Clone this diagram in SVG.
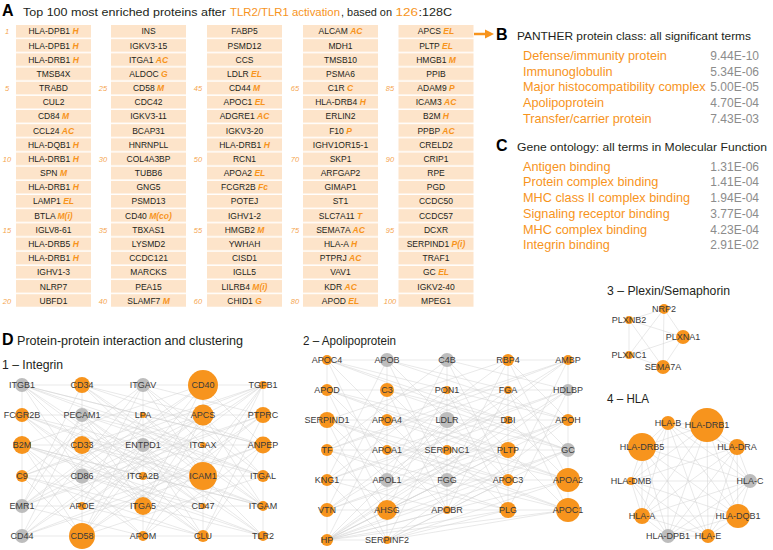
<svg xmlns="http://www.w3.org/2000/svg" width="773" height="550" viewBox="0 0 773 550">
<style>
text{font-family:"Liberation Sans",Arial,sans-serif}
.h{font-size:13.5px;fill:#231f20}
.hb{font-size:16px;font-weight:bold;fill:#000}
.org{fill:#F7941D}
.ct{font-size:8.5px;fill:#231f20;text-anchor:middle}
.t{fill:#F7941D;font-weight:bold;font-style:italic}
.num{font-size:7.5px;fill:#F5A54F;font-style:italic;text-anchor:middle}
.it{font-size:12.7px;fill:#F7941D}
.v{font-size:12px;fill:#8c8c8c;text-anchor:end}
.e{fill:none;stroke:#d2d2d2;stroke-width:0.5}
.o{fill:#F7941D}
.g{fill:#BDBDBD}
.lb{font-size:9px;fill:#3a3a3a;text-anchor:middle;dominant-baseline:central}
</style>
<defs>
<pattern id="rowpat" x="0" y="25" width="100" height="14.17" patternUnits="userSpaceOnUse"><rect width="100" height="12.7" fill="#FDE4CA"/></pattern>
</defs>
<rect width="773" height="550" fill="#fff"/>

<!-- Panel A -->
<g id="panelA">
<text x="2" y="16" class="hb">A</text>
<text x="23" y="16" class="h" style="font-size:11.5px" textLength="203" lengthAdjust="spacingAndGlyphs">Top 100 most enriched proteins after</text>
<text x="230" y="16" class="h org" style="font-size:11.5px" textLength="110" lengthAdjust="spacingAndGlyphs">TLR2/TLR1 activation</text>
<text x="341" y="16" class="h" style="font-size:11.5px" textLength="51" lengthAdjust="spacingAndGlyphs">, based on</text>
<text x="395.5" y="16" class="h org" style="font-size:11.5px" textLength="22.5" lengthAdjust="spacingAndGlyphs">126</text>
<text x="418.5" y="16" class="h" style="font-size:11.5px" textLength="33.5" lengthAdjust="spacingAndGlyphs">:128C</text>
<rect x="16" y="25" width="75" height="282" fill="url(#rowpat)"/>
<rect x="111" y="25" width="75" height="282" fill="url(#rowpat)"/>
<rect x="207" y="25" width="75" height="282" fill="url(#rowpat)"/>
<rect x="303" y="25" width="75" height="282" fill="url(#rowpat)"/>
<rect x="398.5" y="25" width="75" height="282" fill="url(#rowpat)"/>
<g class="numbers">
<text class="num" x="7" y="34.4">1</text><text class="num" x="7" y="91.1">5</text><text class="num" x="7" y="161.9">10</text><text class="num" x="7" y="232.8">15</text><text class="num" x="7" y="303.6">20</text>
<text class="num" x="103" y="91.1">25</text><text class="num" x="103" y="161.9">30</text><text class="num" x="103" y="232.8">35</text><text class="num" x="103" y="303.6">40</text>
<text class="num" x="198" y="91.1">45</text><text class="num" x="198" y="161.9">50</text><text class="num" x="198" y="232.8">55</text><text class="num" x="198" y="303.6">60</text>
<text class="num" x="295" y="91.1">65</text><text class="num" x="295" y="161.9">70</text><text class="num" x="295" y="232.8">75</text><text class="num" x="295" y="303.6">80</text>
<text class="num" x="390" y="91.1">85</text><text class="num" x="390" y="161.9">90</text><text class="num" x="390" y="232.8">95</text><text class="num" x="390" y="303.6">100</text>
</g>
<g class="col1">
<text class="ct" x="53.5" y="34.4">HLA-DPB1 <tspan class="t">H</tspan></text>
<text class="ct" x="53.5" y="48.6">HLA-DPB1 <tspan class="t">H</tspan></text>
<text class="ct" x="53.5" y="62.7">HLA-DRB1 <tspan class="t">H</tspan></text>
<text class="ct" x="53.5" y="76.9">TMSB4X</text>
<text class="ct" x="53.5" y="91.1">TRABD</text>
<text class="ct" x="53.5" y="105.3">CUL2</text>
<text class="ct" x="53.5" y="119.4">CD84 <tspan class="t">M</tspan></text>
<text class="ct" x="53.5" y="133.6">CCL24 <tspan class="t">AC</tspan></text>
<text class="ct" x="53.5" y="147.8">HLA-DQB1 <tspan class="t">H</tspan></text>
<text class="ct" x="53.5" y="161.9">HLA-DRB1 <tspan class="t">H</tspan></text>
<text class="ct" x="53.5" y="176.1">SPN <tspan class="t">M</tspan></text>
<text class="ct" x="53.5" y="190.3">HLA-DRB1 <tspan class="t">H</tspan></text>
<text class="ct" x="53.5" y="204.4">LAMP1 <tspan class="t">EL</tspan></text>
<text class="ct" x="53.5" y="218.6">BTLA <tspan class="t">M(i)</tspan></text>
<text class="ct" x="53.5" y="232.8">IGLV8-61</text>
<text class="ct" x="53.5" y="247.0">HLA-DRB5 <tspan class="t">H</tspan></text>
<text class="ct" x="53.5" y="261.1">HLA-DRB1 <tspan class="t">H</tspan></text>
<text class="ct" x="53.5" y="275.3">IGHV1-3</text>
<text class="ct" x="53.5" y="289.5">NLRP7</text>
<text class="ct" x="53.5" y="303.6">UBFD1</text>
</g>
<g class="col2">
<text class="ct" x="148.5" y="34.4">INS</text>
<text class="ct" x="148.5" y="48.6">IGKV3-15</text>
<text class="ct" x="148.5" y="62.7">ITGA1 <tspan class="t">AC</tspan></text>
<text class="ct" x="148.5" y="76.9">ALDOC <tspan class="t">G</tspan></text>
<text class="ct" x="148.5" y="91.1">CD58 <tspan class="t">M</tspan></text>
<text class="ct" x="148.5" y="105.3">CDC42</text>
<text class="ct" x="148.5" y="119.4">IGKV3-11</text>
<text class="ct" x="148.5" y="133.6">BCAP31</text>
<text class="ct" x="148.5" y="147.8">HNRNPLL</text>
<text class="ct" x="148.5" y="161.9">COL4A3BP</text>
<text class="ct" x="148.5" y="176.1">TUBB6</text>
<text class="ct" x="148.5" y="190.3">GNG5</text>
<text class="ct" x="148.5" y="204.4">PSMD13</text>
<text class="ct" x="148.5" y="218.6">CD40 <tspan class="t">M(co)</tspan></text>
<text class="ct" x="148.5" y="232.8">TBXAS1</text>
<text class="ct" x="148.5" y="247.0">LYSMD2</text>
<text class="ct" x="148.5" y="261.1">CCDC121</text>
<text class="ct" x="148.5" y="275.3">MARCKS</text>
<text class="ct" x="148.5" y="289.5">PEA15</text>
<text class="ct" x="148.5" y="303.6">SLAMF7 <tspan class="t">M</tspan></text>
</g>
<g class="col3">
<text class="ct" x="244.5" y="34.4">FABP5</text>
<text class="ct" x="244.5" y="48.6">PSMD12</text>
<text class="ct" x="244.5" y="62.7">CCS</text>
<text class="ct" x="244.5" y="76.9">LDLR <tspan class="t">EL</tspan></text>
<text class="ct" x="244.5" y="91.1">CD44 <tspan class="t">M</tspan></text>
<text class="ct" x="244.5" y="105.3">APOC1 <tspan class="t">EL</tspan></text>
<text class="ct" x="244.5" y="119.4">ADGRE1 <tspan class="t">AC</tspan></text>
<text class="ct" x="244.5" y="133.6">IGKV3-20</text>
<text class="ct" x="244.5" y="147.8">HLA-DRB1 <tspan class="t">H</tspan></text>
<text class="ct" x="244.5" y="161.9">RCN1</text>
<text class="ct" x="244.5" y="176.1">APOA2 <tspan class="t">EL</tspan></text>
<text class="ct" x="244.5" y="190.3">FCGR2B <tspan class="t">Fc</tspan></text>
<text class="ct" x="244.5" y="204.4">POTEJ</text>
<text class="ct" x="244.5" y="218.6">IGHV1-2</text>
<text class="ct" x="244.5" y="232.8">HMGB2 <tspan class="t">M</tspan></text>
<text class="ct" x="244.5" y="247.0">YWHAH</text>
<text class="ct" x="244.5" y="261.1">CISD1</text>
<text class="ct" x="244.5" y="275.3">IGLL5</text>
<text class="ct" x="244.5" y="289.5">LILRB4 <tspan class="t">M(i)</tspan></text>
<text class="ct" x="244.5" y="303.6">CHID1 <tspan class="t">G</tspan></text>
</g>
<g class="col4">
<text class="ct" x="340.5" y="34.4">ALCAM <tspan class="t">AC</tspan></text>
<text class="ct" x="340.5" y="48.6">MDH1</text>
<text class="ct" x="340.5" y="62.7">TMSB10</text>
<text class="ct" x="340.5" y="76.9">PSMA6</text>
<text class="ct" x="340.5" y="91.1">C1R <tspan class="t">C</tspan></text>
<text class="ct" x="340.5" y="105.3">HLA-DRB4 <tspan class="t">H</tspan></text>
<text class="ct" x="340.5" y="119.4">ERLIN2</text>
<text class="ct" x="340.5" y="133.6">F10 <tspan class="t">P</tspan></text>
<text class="ct" x="340.5" y="147.8">IGHV1OR15-1</text>
<text class="ct" x="340.5" y="161.9">SKP1</text>
<text class="ct" x="340.5" y="176.1">ARFGAP2</text>
<text class="ct" x="340.5" y="190.3">GIMAP1</text>
<text class="ct" x="340.5" y="204.4">ST1</text>
<text class="ct" x="340.5" y="218.6">SLC7A11 <tspan class="t">T</tspan></text>
<text class="ct" x="340.5" y="232.8">SEMA7A <tspan class="t">AC</tspan></text>
<text class="ct" x="340.5" y="247.0">HLA-A <tspan class="t">H</tspan></text>
<text class="ct" x="340.5" y="261.1">PTPRJ <tspan class="t">AC</tspan></text>
<text class="ct" x="340.5" y="275.3">VAV1</text>
<text class="ct" x="340.5" y="289.5">KDR <tspan class="t">AC</tspan></text>
<text class="ct" x="340.5" y="303.6">APOD <tspan class="t">EL</tspan></text>
</g>
<g class="col5">
<text class="ct" x="436" y="34.4">APCS <tspan class="t">EL</tspan></text>
<text class="ct" x="436" y="48.6">PLTP <tspan class="t">EL</tspan></text>
<text class="ct" x="436" y="62.7">HMGB1 <tspan class="t">M</tspan></text>
<text class="ct" x="436" y="76.9">PPIB</text>
<text class="ct" x="436" y="91.1">ADAM9 <tspan class="t">P</tspan></text>
<text class="ct" x="436" y="105.3">ICAM3 <tspan class="t">AC</tspan></text>
<text class="ct" x="436" y="119.4">B2M <tspan class="t">H</tspan></text>
<text class="ct" x="436" y="133.6">PPBP <tspan class="t">AC</tspan></text>
<text class="ct" x="436" y="147.8">CRELD2</text>
<text class="ct" x="436" y="161.9">CRIP1</text>
<text class="ct" x="436" y="176.1">RPE</text>
<text class="ct" x="436" y="190.3">PGD</text>
<text class="ct" x="436" y="204.4">CCDC50</text>
<text class="ct" x="436" y="218.6">CCDC57</text>
<text class="ct" x="436" y="232.8">DCXR</text>
<text class="ct" x="436" y="247.0">SERPIND1 <tspan class="t">P(i)</tspan></text>
<text class="ct" x="436" y="261.1">TRAF1</text>
<text class="ct" x="436" y="275.3">GC <tspan class="t">EL</tspan></text>
<text class="ct" x="436" y="289.5">IGKV2-40</text>
<text class="ct" x="436" y="303.6">MPEG1</text>
</g>
</g>

<!-- Panel B -->
<g id="panelB">
<path d="M474 34H487" stroke="#F7941D" stroke-width="2.5"/>
<path d="M485 29.5L494 34L485 38.5Z" fill="#F7941D"/>
<text x="496" y="40" class="hb">B</text>
<text x="517" y="40" class="h" textLength="234" lengthAdjust="spacingAndGlyphs" style="font-size:11.5px">PANTHER protein class: all significant terms</text>
<text x="523" y="60" class="it">Defense/immunity protein</text><text x="759" y="60" class="v">9.44E-10</text>
<text x="523" y="75.7" class="it">Immunoglobulin</text><text x="759" y="75.7" class="v">5.34E-06</text>
<text x="523" y="91.4" class="it">Major histocompatibility complex</text><text x="759" y="91.4" class="v">5.00E-05</text>
<text x="523" y="107.1" class="it">Apolipoprotein</text><text x="759" y="107.1" class="v">4.70E-04</text>
<text x="523" y="122.8" class="it">Transfer/carrier protein</text><text x="759" y="122.8" class="v">7.43E-03</text>
</g>

<!-- Panel C -->
<g id="panelC">
<text x="496" y="151" class="hb">C</text>
<text x="517" y="151" class="h" textLength="250" lengthAdjust="spacingAndGlyphs" style="font-size:11.5px">Gene ontology: all terms in Molecular Function</text>
<text x="523" y="170.7" class="it">Antigen binding</text><text x="759" y="170.7" class="v">1.31E-06</text>
<text x="523" y="186.4" class="it">Protein complex binding</text><text x="759" y="186.4" class="v">1.41E-04</text>
<text x="523" y="202.1" class="it">MHC class II complex binding</text><text x="759" y="202.1" class="v">1.94E-04</text>
<text x="523" y="217.8" class="it">Signaling receptor binding</text><text x="759" y="217.8" class="v">3.77E-04</text>
<text x="523" y="233.5" class="it">MHC complex binding</text><text x="759" y="233.5" class="v">4.23E-04</text>
<text x="523" y="249.2" class="it">Integrin binding</text><text x="759" y="249.2" class="v">2.91E-02</text>
</g>

<!-- Panel D headings -->
<g id="panelD-titles">
<text x="2" y="345" class="hb">D</text>
<text x="17" y="345" class="h" textLength="226" lengthAdjust="spacingAndGlyphs" style="font-size:13px">Protein-protein interaction and clustering</text>
<text x="2" y="369" class="h" textLength="61" lengthAdjust="spacingAndGlyphs" style="font-size:13px">1 – Integrin</text>
<text x="303" y="345" class="h" textLength="93" lengthAdjust="spacingAndGlyphs" style="font-size:13px">2 – Apolipoprotein</text>
<text x="607" y="295" class="h" textLength="123" lengthAdjust="spacingAndGlyphs" style="font-size:13px">3 – Plexin/Semaphorin</text>
<text x="607" y="403" class="h" textLength="42" lengthAdjust="spacingAndGlyphs" style="font-size:13px">4 – HLA</text>
</g>

<!-- Connectors -->
<g id="connectors">
<path class="e" d="M22 385L143 415M82 385L203 415M143 385L263 415M203 385L22 445M263 385L82 445M22 415L143 445M82 415L203 445M143 415L263 445M203 415L22 476M263 415L82 476M22 445L143 476M82 445L203 476M143 445L263 476M203 445L22 506M263 445L82 506M22 476L143 506M82 476L203 506M143 476L263 506M203 476L22 536M263 476L82 536M22 506L143 536M82 506L203 536M143 506L263 536M203 506L22 385M263 506L82 385M22 536L143 385M82 536L203 385M143 536L263 385M203 536L22 415M263 536L82 415
M22 385L82 445M82 385L143 445M143 385L203 445M203 385L263 445M263 385L22 476M22 415L82 476M82 415L143 476M143 415L203 476M203 415L263 476M263 415L22 506M22 445L82 506M82 445L143 506M143 445L203 506M203 445L263 506M263 445L22 536M22 476L82 536M82 476L143 536M143 476L203 536M203 476L263 536M263 476L22 385M22 506L82 385M82 506L143 385M143 506L203 385M203 506L263 385M263 506L22 415M22 536L82 415M82 536L143 415M143 536L203 415M203 536L263 415M263 536L22 445
M22 385L203 445M82 385L263 445M143 385L22 476M203 385L82 476M263 385L143 476M22 415L203 476M82 415L263 476M143 415L22 506M203 415L82 506M263 415L143 506M22 445L203 506M82 445L263 506M143 445L22 536M203 445L82 536M263 445L143 536M22 476L203 536M82 476L263 536M143 476L22 385M203 476L82 385M263 476L143 385M22 506L203 385M82 506L263 385M143 506L22 415M203 506L82 415M263 506L143 415M22 536L203 415M82 536L263 415M143 536L22 445M203 536L82 445M263 536L143 445
M22 385L82 476M143 385L203 476M263 385L22 506M82 415L143 506M203 415L263 506M22 445L82 536M143 445L203 536M263 445L22 385M203 476L263 385M22 506L82 415M143 506L203 415M263 506L22 445M82 536L143 445M203 536L263 445
M22 385H263M22 415H263M22 445H263M22 476H263M22 506H263M22 536H263M22 385V536M82 385V536M143 385V536M203 385V536M263 385V536"/>
<path class="e" d="M327 360L447 390M387 360L508 390M447 360L568 390M508 360L327 420M568 360L387 420M327 390L447 420M387 390L508 420M447 390L568 420M508 390L327 450M568 390L387 450M327 420L447 450M387 420L508 450M447 420L568 450M508 420L327 480M568 420L387 480M327 450L447 480M387 450L508 480M447 450L568 480M508 450L327 510M568 450L387 510M327 480L447 510M387 480L508 510M447 480L568 510M508 480L327 540M568 480L387 540
M327 360L387 420M387 360L447 420M447 360L508 420M508 360L568 420M568 360L327 450M327 390L387 450M387 390L447 450M447 390L508 450M508 390L568 450M568 390L327 480M327 420L387 480M387 420L447 480M447 420L508 480M508 420L568 480M568 420L327 510M327 450L387 510M387 450L447 510M447 450L508 510M508 450L568 510M568 450L327 540M327 480L387 540M387 480L327 360M447 480L387 360M508 480L447 360M568 480L508 360M327 510L568 360M387 510L327 390M447 510L387 390M508 510L447 390M568 510L508 390M327 540L568 390M387 540L327 420
M327 360L508 420M387 360L568 420M447 360L327 450M508 360L387 450M568 360L447 450M327 390L508 450M387 390L568 450M447 390L327 480M508 390L387 480M568 390L447 480M327 420L508 480M387 420L568 480M447 420L327 510M508 420L387 510M568 420L447 510M327 450L508 510M387 450L568 510M447 450L327 540M508 450L387 540M568 450L327 360M327 480L387 360M387 480L447 360M447 480L508 360M508 480L568 360M568 480L327 390M327 510L387 390M387 510L447 390M447 510L508 390M508 510L568 390M568 510L327 420M327 540L387 420M387 540L447 420
M327 540L568 420M327 540L568 480M327 540L568 510M327 540L508 510M327 540L508 450M327 540L508 420M327 540L447 480M327 540L447 510M327 540L447 420M387 540L568 510M387 540L568 450M387 540L508 510M387 540L508 480
M327 360H568M327 390H568M327 420H568M327 450H568M327 480H568M327 510H568M327 540H387M327 360V540M387 360V540M447 360V510M508 360V510M568 360V510"/>
<path class="e" d="M664 309L629 320M664 309L683 337M664 309L629 355M664 309L663 367M629 320L683 337M629 320L629 355M629 320L663 367M683 337L629 355M683 337L663 367M629 355L663 367"/>
<path class="e" d="M668 423L707 425M668 423L737 447M668 423L642 447M668 423L631 481M668 423L750 481M668 423L642 516M668 423L738 516M668 423L668 536M668 423L708 536M707 425L737 447M707 425L642 447M707 425L631 481M707 425L750 481M707 425L642 516M707 425L738 516M707 425L668 536M707 425L708 536M737 447L642 447M737 447L631 481M737 447L750 481M737 447L642 516M737 447L738 516M737 447L668 536M737 447L708 536M642 447L631 481M642 447L750 481M642 447L642 516M642 447L738 516M642 447L668 536M642 447L708 536M631 481L750 481M631 481L642 516M631 481L738 516M631 481L668 536M631 481L708 536M750 481L642 516M750 481L738 516M750 481L668 536M750 481L708 536M642 516L738 516M642 516L668 536M642 516L708 536M738 516L668 536M738 516L708 536M668 536L708 536"/>
</g>

<!-- Network 1: Integrin -->
<g id="net1">
<g id="n1-ITGB1"><circle class="g" cx="22" cy="385" r="7"/><text class="lb" x="22" y="385">ITGB1</text></g>
<g id="n1-CD34"><circle class="o" cx="82" cy="385" r="8"/><text class="lb" x="82" y="385">CD34</text></g>
<g id="n1-ITGAV"><circle class="g" cx="143" cy="385" r="7"/><text class="lb" x="143" y="385">ITGAV</text></g>
<g id="n1-CD40"><circle class="o" cx="203" cy="385" r="15"/><text class="lb" x="203" y="385">CD40</text></g>
<g id="n1-TGFB1"><circle class="o" cx="263" cy="385" r="4"/><text class="lb" x="263" y="385">TGFB1</text></g>
<g id="n1-FCGR2B"><circle class="o" cx="22" cy="415" r="7"/><text class="lb" x="22" y="415">FCGR2B</text></g>
<g id="n1-PECAM1"><circle class="g" cx="82" cy="415" r="7"/><text class="lb" x="82" y="415">PECAM1</text></g>
<g id="n1-LPA"><circle class="o" cx="143" cy="415" r="3"/><text class="lb" x="143" y="415">LPA</text></g>
<g id="n1-APCS"><circle class="o" cx="203" cy="415" r="10.5"/><text class="lb" x="203" y="415">APCS</text></g>
<g id="n1-PTPRC"><circle class="o" cx="263" cy="415" r="8"/><text class="lb" x="263" y="415">PTPRC</text></g>
<g id="n1-B2M"><circle class="o" cx="22" cy="445" r="9"/><text class="lb" x="22" y="445">B2M</text></g>
<g id="n1-CD33"><circle class="o" cx="82" cy="445" r="9"/><text class="lb" x="82" y="445">CD33</text></g>
<g id="n1-ENTPD1"><circle class="g" cx="143" cy="445" r="7"/><text class="lb" x="143" y="445">ENTPD1</text></g>
<g id="n1-ITGAX"><circle class="o" cx="203" cy="445" r="3"/><text class="lb" x="203" y="445">ITGAX</text></g>
<g id="n1-ANPEP"><circle class="o" cx="263" cy="445" r="8.5"/><text class="lb" x="263" y="445">ANPEP</text></g>
<g id="n1-C9"><circle class="o" cx="22" cy="476" r="6"/><text class="lb" x="22" y="476">C9</text></g>
<g id="n1-CD86"><circle class="g" cx="82" cy="476" r="7.5"/><text class="lb" x="82" y="476">CD86</text></g>
<g id="n1-ITGA2B"><circle class="o" cx="143" cy="476" r="4"/><text class="lb" x="143" y="476">ITGA2B</text></g>
<g id="n1-ICAM1"><circle class="o" cx="203" cy="476" r="14"/><text class="lb" x="203" y="476">ICAM1</text></g>
<g id="n1-ITGAL"><circle class="o" cx="263" cy="476" r="6"/><text class="lb" x="263" y="476">ITGAL</text></g>
<g id="n1-EMR1"><circle class="g" cx="22" cy="506" r="7"/><text class="lb" x="22" y="506">EMR1</text></g>
<g id="n1-APOE"><circle class="o" cx="82" cy="506" r="4"/><text class="lb" x="82" y="506">APOE</text></g>
<g id="n1-ITGA5"><circle class="o" cx="143" cy="506" r="9"/><text class="lb" x="143" y="506">ITGA5</text></g>
<g id="n1-CD47"><circle class="o" cx="203" cy="506" r="3"/><text class="lb" x="203" y="506">CD47</text></g>
<g id="n1-ITGAM"><circle class="o" cx="263" cy="506" r="5"/><text class="lb" x="263" y="506">ITGAM</text></g>
<g id="n1-CD44"><circle class="g" cx="22" cy="536" r="7"/><text class="lb" x="22" y="536">CD44</text></g>
<g id="n1-CD58"><circle class="o" cx="82" cy="536" r="13"/><text class="lb" x="82" y="536">CD58</text></g>
<g id="n1-APOM"><circle class="o" cx="143" cy="536" r="5"/><text class="lb" x="143" y="536">APOM</text></g>
<g id="n1-CLU"><circle class="o" cx="203" cy="536" r="6"/><text class="lb" x="203" y="536">CLU</text></g>
<g id="n1-TLR2"><circle class="o" cx="263" cy="536" r="5"/><text class="lb" x="263" y="536">TLR2</text></g>
</g>

<!-- Network 2: Apolipoprotein -->
<g id="net2">
<g id="n2-APOC4"><circle class="o" cx="327" cy="360" r="5"/><text class="lb" x="327" y="360">APOC4</text></g>
<g id="n2-APOB"><circle class="g" cx="387" cy="360" r="7"/><text class="lb" x="387" y="360">APOB</text></g>
<g id="n2-C4B"><circle class="g" cx="447" cy="360" r="7"/><text class="lb" x="447" y="360">C4B</text></g>
<g id="n2-RBP4"><circle class="o" cx="508" cy="360" r="6"/><text class="lb" x="508" y="360">RBP4</text></g>
<g id="n2-AMBP"><circle class="o" cx="568" cy="360" r="5"/><text class="lb" x="568" y="360">AMBP</text></g>
<g id="n2-APOD"><circle class="o" cx="327" cy="390" r="6"/><text class="lb" x="327" y="390">APOD</text></g>
<g id="n2-C3"><circle class="o" cx="387" cy="390" r="7"/><text class="lb" x="387" y="390">C3</text></g>
<g id="n2-PON1"><circle class="o" cx="447" cy="390" r="4"/><text class="lb" x="447" y="390">PON1</text></g>
<g id="n2-FGA"><circle class="o" cx="508" cy="390" r="4"/><text class="lb" x="508" y="390">FGA</text></g>
<g id="n2-HDLBP"><circle class="g" cx="568" cy="390" r="6"/><text class="lb" x="568" y="390">HDLBP</text></g>
<g id="n2-SERPIND1"><circle class="o" cx="327" cy="420" r="8"/><text class="lb" x="327" y="420">SERPIND1</text></g>
<g id="n2-APOA4"><circle class="o" cx="387" cy="420" r="6"/><text class="lb" x="387" y="420">APOA4</text></g>
<g id="n2-LDLR"><circle class="g" cx="447" cy="420" r="8"/><text class="lb" x="447" y="420">LDLR</text></g>
<g id="n2-DBI"><circle class="o" cx="508" cy="420" r="4"/><text class="lb" x="508" y="420">DBI</text></g>
<g id="n2-APOH"><circle class="o" cx="568" cy="420" r="6"/><text class="lb" x="568" y="420">APOH</text></g>
<g id="n2-TF"><circle class="o" cx="327" cy="450" r="6"/><text class="lb" x="327" y="450">TF</text></g>
<g id="n2-APOA1"><circle class="o" cx="387" cy="450" r="5"/><text class="lb" x="387" y="450">APOA1</text></g>
<g id="n2-SERPINC1"><circle class="o" cx="447" cy="450" r="5"/><text class="lb" x="447" y="450">SERPINC1</text></g>
<g id="n2-PLTP"><circle class="o" cx="508" cy="450" r="8"/><text class="lb" x="508" y="450">PLTP</text></g>
<g id="n2-GC"><circle class="g" cx="568" cy="450" r="7"/><text class="lb" x="568" y="450">GC</text></g>
<g id="n2-KNG1"><circle class="o" cx="327" cy="480" r="6"/><text class="lb" x="327" y="480">KNG1</text></g>
<g id="n2-APOL1"><circle class="g" cx="387" cy="480" r="7"/><text class="lb" x="387" y="480">APOL1</text></g>
<g id="n2-FGG"><circle class="g" cx="447" cy="480" r="7"/><text class="lb" x="447" y="480">FGG</text></g>
<g id="n2-APOC3"><circle class="o" cx="508" cy="480" r="6"/><text class="lb" x="508" y="480">APOC3</text></g>
<g id="n2-APOA2"><circle class="o" cx="568" cy="480" r="12"/><text class="lb" x="568" y="480">APOA2</text></g>
<g id="n2-VTN"><circle class="o" cx="327" cy="510" r="7"/><text class="lb" x="327" y="510">VTN</text></g>
<g id="n2-AHSG"><circle class="o" cx="387" cy="510" r="10"/><text class="lb" x="387" y="510">AHSG</text></g>
<g id="n2-APOBR"><circle class="o" cx="447" cy="510" r="4"/><text class="lb" x="447" y="510">APOBR</text></g>
<g id="n2-PLG"><circle class="o" cx="508" cy="510" r="8"/><text class="lb" x="508" y="510">PLG</text></g>
<g id="n2-APOC1"><circle class="o" cx="568" cy="510" r="12"/><text class="lb" x="568" y="510">APOC1</text></g>
<g id="n2-HP"><circle class="o" cx="327" cy="540" r="6"/><text class="lb" x="327" y="540">HP</text></g>
<g id="n2-SERPINF2"><circle class="o" cx="387" cy="540" r="4"/><text class="lb" x="387" y="540">SERPINF2</text></g>
</g>

<!-- Network 3: Plexin/Semaphorin -->
<g id="net3">
<g id="n3-NRP2"><circle class="o" cx="664" cy="309" r="5"/><text class="lb" x="664" y="309">NRP2</text></g>
<g id="n3-PLXNB2"><circle class="o" cx="629" cy="320" r="4"/><text class="lb" x="629" y="320">PLXNB2</text></g>
<g id="n3-PLXNA1"><circle class="o" cx="683" cy="337" r="7"/><text class="lb" x="683" y="337">PLXNA1</text></g>
<g id="n3-PLXNC1"><circle class="o" cx="629" cy="355" r="4"/><text class="lb" x="629" y="355">PLXNC1</text></g>
<g id="n3-SEMA7A"><circle class="o" cx="663" cy="367" r="7"/><text class="lb" x="663" y="367">SEMA7A</text></g>
</g>

<!-- Network 4: HLA -->
<g id="net4">
<g id="n4-HLA-B"><circle class="o" cx="668" cy="423" r="7"/><text class="lb" x="668" y="423">HLA-B</text></g>
<g id="n4-HLA-DRB1"><circle class="o" cx="707" cy="425" r="17"/><text class="lb" x="707" y="425">HLA-DRB1</text></g>
<g id="n4-HLA-DRA"><circle class="o" cx="737" cy="447" r="8"/><text class="lb" x="737" y="447">HLA-DRA</text></g>
<g id="n4-HLA-DRB5"><circle class="o" cx="642" cy="447" r="14"/><text class="lb" x="642" y="447">HLA-DRB5</text></g>
<g id="n4-HLA-DMB"><circle class="o" cx="631" cy="481" r="4"/><text class="lb" x="631" y="481">HLA-DMB</text></g>
<g id="n4-HLA-C"><circle class="g" cx="750" cy="481" r="7"/><text class="lb" x="750" y="481">HLA-C</text></g>
<g id="n4-HLA-A"><circle class="o" cx="642" cy="516" r="8"/><text class="lb" x="642" y="516">HLA-A</text></g>
<g id="n4-HLA-DQB1"><circle class="o" cx="738" cy="516" r="12"/><text class="lb" x="738" y="516">HLA-DQB1</text></g>
<g id="n4-HLA-DPB1"><circle class="g" cx="668" cy="536" r="7"/><text class="lb" x="668" y="536">HLA-DPB1</text></g>
<g id="n4-HLA-E"><circle class="o" cx="708" cy="536" r="7"/><text class="lb" x="708" y="536">HLA-E</text></g>
</g>
</svg>
